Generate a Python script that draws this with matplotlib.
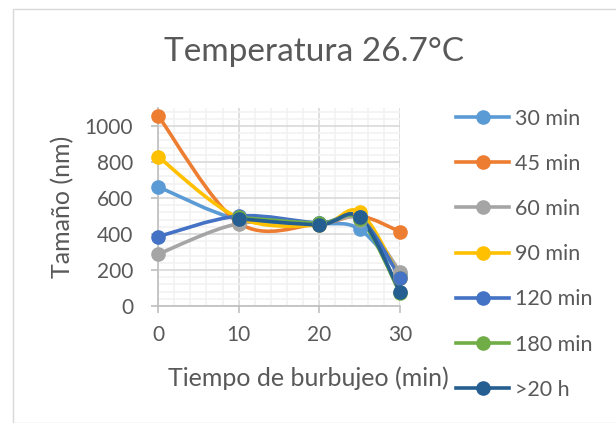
import numpy as np
import matplotlib
matplotlib.use("Agg")
import matplotlib.pyplot as plt
from matplotlib.path import Path
from matplotlib.patches import PathPatch, Rectangle
from matplotlib.lines import Line2D

plt.rcParams["font.family"] = ["Lato", "DejaVu Sans"]

# datos
tiempo = [0, 10, 20, 25, 30]
s30 = [663, 480, 460, 426, 180]
s45 = [1058, 462, 458, 500, 413]
s60 = [288, 458, 458, 480, 190]
s90 = [830, 490, 450, 522, 155]
s120 = [385, 500, 462, 492, 158]
tiempo_b = [10, 20, 25, 30]
s180 = [492, 460, 482, 72]
s20h = [485, 452, 492, 80]

series = [
    ("30 min", tiempo, s30, "#5B9BD5"),
    ("45 min", tiempo, s45, "#ED7D31"),
    ("60 min", tiempo, s60, "#A5A5A5"),
    ("90 min", tiempo, s90, "#FFC000"),
    ("120 min", tiempo, s120, "#4472C4"),
    ("180 min", tiempo_b, s180, "#70AD47"),
    (">20 h", tiempo_b, s20h, "#255E91"),
]

gris = "#595959"


def curva_suave(x, y):
    # linea suavizada estilo Excel (bezier cubica)
    p = np.column_stack([x, y]).astype(float)
    verts = [p[0]]
    codes = [Path.MOVETO]
    n = len(p)
    for i in range(n - 1):
        p0 = p[i - 1] if i > 0 else p[i]
        p3 = p[i + 2] if i + 2 < n else p[i + 1]
        c1 = p[i] + (p[i + 1] - p0) / 6
        c2 = p[i + 1] - (p3 - p[i]) / 6
        verts += [c1, c2, p[i + 1]]
        codes += [Path.CURVE4] * 3
    return Path(verts, codes)


fig = plt.figure(figsize=(6.16, 4.23), dpi=100)
fig.patches.append(Rectangle((13 / 616, 0), 1, 1 - 9 / 423, transform=fig.transFigure,
                             fill=False, edgecolor="#d9d9d9", linewidth=1))

ax = fig.add_axes([158 / 616, 1 - 306 / 423, 242 / 616, 198 / 423])
ax.set_xlim(0, 30)
ax.set_ylim(0, 1100)
ax.set_xticks([0, 10, 20, 30])
ax.set_yticks([0, 200, 400, 600, 800, 1000])
ax.set_xticks(np.arange(0, 31, 2), minor=True)
ax.set_yticks(np.arange(0, 1100, 40), minor=True)
ax.grid(True, which="major", color="#d9d9d9", linewidth=1.2)
ax.grid(True, which="minor", color="#f2f2f2", linewidth=1.2)
ax.set_axisbelow(True)
for lado in ["top", "right"]:
    ax.spines[lado].set_visible(False)
for lado in ["left", "bottom"]:
    ax.spines[lado].set_color("#bfbfbf")
    ax.spines[lado].set_linewidth(1.2)
ax.tick_params(which="major", length=5, color="#bfbfbf", width=1.2,
               labelsize=15, labelcolor=gris)
ax.tick_params(axis="x", which="major", pad=9)
ax.tick_params(axis="y", which="major", pad=13)
ax.tick_params(which="minor", length=0)

handles = []
for nombre, x, y, color in series:
    ax.add_patch(PathPatch(curva_suave(x, y), facecolor="none", edgecolor=color,
                           linewidth=2.6, capstyle="round", zorder=3))
    ax.plot(x, y, "o", color=color, markersize=9.5, zorder=4, clip_on=False)
    handles.append(Line2D([], [], color=color, linewidth=2.6, marker="o", markersize=9.5))

fig.text(314 / 616, 1 - 52 / 423, "Temperatura 26.7°C", ha="center", va="center",
         fontsize=24, color=gris)
fig.text(63 / 616, 1 - 207 / 423, "Tamaño (nm)", ha="center", va="center",
         rotation=90, fontsize=18, color=gris)
fig.text(308 / 616, 1 - 378 / 423, "Tiempo de burbujeo (min)", ha="center", va="center",
         fontsize=18, color=gris)

leg = fig.legend(handles, [s[0] for s in series], loc="upper left",
                 bbox_to_anchor=(447 / 616, 1 - 100 / 423), frameon=False,
                 fontsize=15.5, labelspacing=1.17, handlelength=2.5,
                 handletextpad=0.25, borderaxespad=0)
for t in leg.get_texts():
    t.set_color(gris)

fig.savefig("out.png", dpi=100)
